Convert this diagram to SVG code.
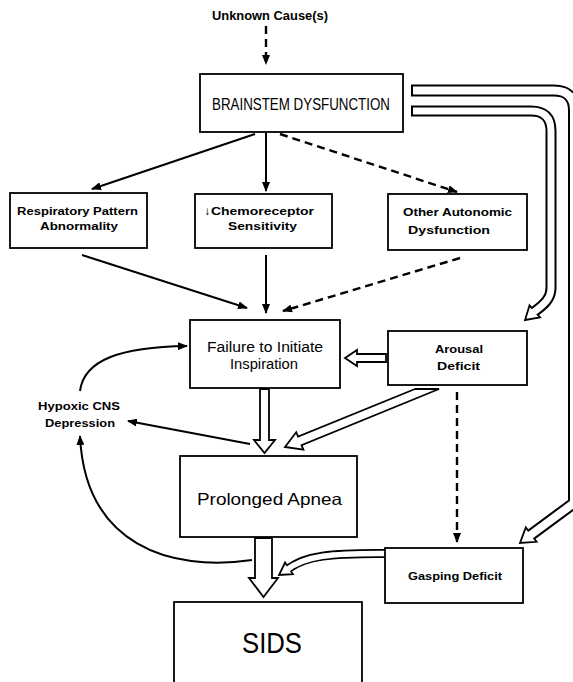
<svg xmlns="http://www.w3.org/2000/svg" width="573" height="682" viewBox="0 0 573 682">
<defs>
<marker id="ah" viewBox="0 0 10 8" refX="9" refY="4" markerWidth="10" markerHeight="8" markerUnits="userSpaceOnUse" orient="auto">
<path d="M0,0 L10,4 L0,8 Z" fill="#000"/>
</marker>
<style>
.box{fill:#fff;stroke:#000;stroke-width:1.8}
.ln{fill:none;stroke:#000;stroke-width:2}
.dash{fill:none;stroke:#000;stroke-width:2.4;stroke-dasharray:8 5}
.hol{fill:#fff;stroke:#000;stroke-width:1.8;stroke-linejoin:miter}
.bk{fill:none;stroke:#000}
.wh{fill:none;stroke:#fff}
text{font-family:"Liberation Sans",Arial,sans-serif;fill:#000}
.b{font-weight:bold}
</style>
</defs>
<rect width="573" height="682" fill="#fff"/>

<g id="connectors">
<path class="dash" d="M266,26 V64" marker-end="url(#ah)"/>
<path class="ln" d="M255,134 L92,189" marker-end="url(#ah)"/>
<path class="ln" d="M266,133 V191" marker-end="url(#ah)"/>
<path class="dash" d="M280,134 L457,192" marker-end="url(#ah)"/>
<path class="ln" d="M82,255 L247,308" marker-end="url(#ah)"/>
<path class="ln" d="M266,255 V313" marker-end="url(#ah)"/>
<path class="dash" d="M460,258 L283,311" marker-end="url(#ah)"/>
<path class="dash" d="M457,392 V542" marker-end="url(#ah)"/>
<path class="ln" d="M250,444 L128,421" marker-end="url(#ah)"/>
<path class="ln" d="M80,391 C84,360 120,347 187,346" marker-end="url(#ah)"/>
<path class="ln" d="M252,560 C170,572 85,545 80,436" marker-end="url(#ah)"/>

<!-- hollow: Arousal -> Failure -->
<polygon class="hol" points="386,354 357,354 357,350 345,358 357,366 357,362 386,362"/>
<!-- hollow: Failure -> Prolonged Apnea -->
<polygon class="hol" points="260,389 260,440 254,440 264.5,453 275,440 269,440 269,389"/>
<!-- hollow: Arousal -> Prolonged Apnea -->
<polygon class="hol" points="415,389 298.1,436.7 296.2,432.2 285,447 303.4,449.7 301.5,445.2 439,389"/>
<!-- hollow: Prolonged Apnea -> SIDS -->
<polygon class="hol" points="255,538 255,578 249,578 263.5,597 278,578 272,578 272,538"/>

<!-- hollow curved: Gasping -> SIDS path -->
<path class="bk" stroke-width="9" d="M386,553.5 C330,553 305,556 289,568.3"/>
<polygon class="hol" points="285.1,562.5 279,575 292.9,574.1"/>
<path class="wh" stroke-width="5.5" d="M388,553.5 C330,553 305,556 286.5,570"/>

<!-- hollow: Brainstem -> Arousal (inner band) -->
<path class="bk" stroke-width="11" d="M411,111 H531 Q551,111 551,131 V288 C551,298 545,304 534.75,311.4"/>
<polygon class="hol" points="529.5,305.4 525,320 540,317.4"/>
<path class="wh" stroke-width="7" d="M413,111 H531 Q551,111 551,131 V288 C551,298 545,304 532.5,313"/>

<!-- hollow: Brainstem -> Gasping (outer band) -->
<path class="bk" stroke-width="12" d="M411,90.5 H554 Q574,90.5 574,110.5 V503 L531.2,534.6"/>
<polygon class="hol" points="525.8,527.4 520,543 536.6,541.8"/>
<path class="wh" stroke-width="8" d="M413,90.5 H554 Q574,90.5 574,110.5 V503 L528.8,536.4"/>
</g>

<g id="unknown">
<text class="b" x="212" y="20" font-size="12.5" textLength="116" lengthAdjust="spacingAndGlyphs">Unknown Cause(s)</text>
</g>

<g id="brainstem">
<rect class="box" x="200" y="74" width="203" height="58"/>
<text x="212" y="110" font-size="17" textLength="178" lengthAdjust="spacingAndGlyphs">BRAINSTEM DYSFUNCTION</text>
</g>

<g id="respiratory">
<rect class="box" x="10" y="193" width="137" height="55"/>
<text class="b" x="17" y="215" font-size="11.5" textLength="121" lengthAdjust="spacingAndGlyphs">Respiratory Pattern</text>
<text class="b" x="40" y="230" font-size="11.5" textLength="78" lengthAdjust="spacingAndGlyphs">Abnormality</text>
</g>

<g id="chemoreceptor">
<rect class="box" x="195" y="194" width="137" height="54"/>
<text class="b" x="204" y="215" font-size="11.5" textLength="110" lengthAdjust="spacingAndGlyphs">↓Chemoreceptor</text>
<text class="b" x="228" y="230" font-size="11.5" textLength="69" lengthAdjust="spacingAndGlyphs">Sensitivity</text>
</g>

<g id="autonomic">
<rect class="box" x="388" y="194" width="139" height="56"/>
<text class="b" x="403" y="216" font-size="11.5" textLength="109" lengthAdjust="spacingAndGlyphs">Other Autonomic</text>
<text class="b" x="408" y="234" font-size="11.5" textLength="82" lengthAdjust="spacingAndGlyphs">Dysfunction</text>
</g>

<g id="failure">
<rect class="box" x="190" y="320" width="150" height="68"/>
<text x="207" y="352" font-size="14" textLength="116" lengthAdjust="spacingAndGlyphs">Failure to Initiate</text>
<text x="230" y="369" font-size="14" textLength="68" lengthAdjust="spacingAndGlyphs">Inspiration</text>
</g>

<g id="arousal">
<rect class="box" x="388" y="331" width="139" height="54"/>
<text class="b" x="435" y="353" font-size="11" textLength="48" lengthAdjust="spacingAndGlyphs">Arousal</text>
<text class="b" x="437" y="370" font-size="11" textLength="43" lengthAdjust="spacingAndGlyphs">Deficit</text>
</g>

<g id="hypoxic">
<text class="b" x="38" y="410" font-size="10.5" textLength="82" lengthAdjust="spacingAndGlyphs">Hypoxic CNS</text>
<text class="b" x="45" y="427" font-size="10.5" textLength="70" lengthAdjust="spacingAndGlyphs">Depression</text>
</g>

<g id="apnea">
<rect class="box" x="180" y="456" width="177" height="81"/>
<text x="197" y="505" font-size="16.5" textLength="145" lengthAdjust="spacingAndGlyphs">Prolonged Apnea</text>
</g>

<g id="gasping">
<rect class="box" x="385" y="548" width="138" height="55"/>
<text class="b" x="408" y="580" font-size="10.5" textLength="94" lengthAdjust="spacingAndGlyphs">Gasping Deficit</text>
</g>

<g id="sids">
<rect class="box" x="174" y="602" width="188" height="100"/>
<text x="242" y="653" font-size="29" textLength="60" lengthAdjust="spacingAndGlyphs">SIDS</text>
</g>
</svg>
